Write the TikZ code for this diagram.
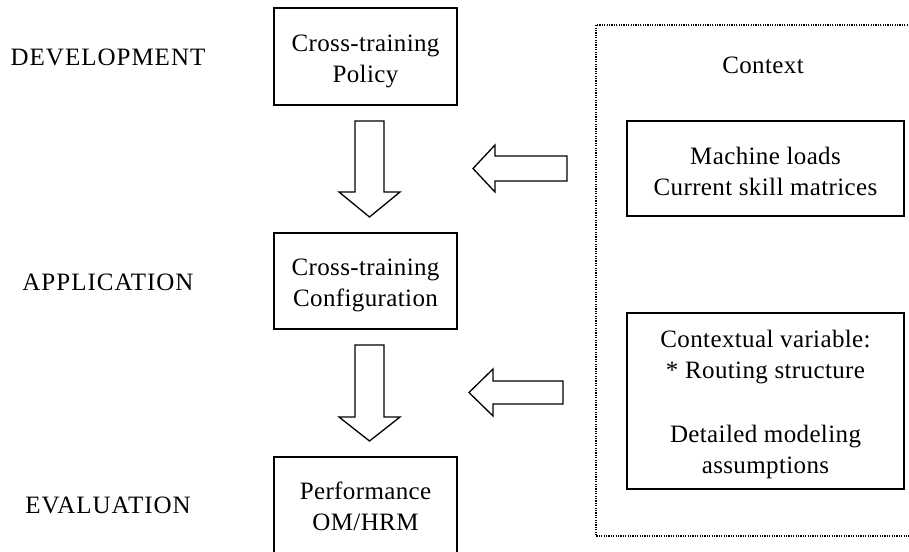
\documentclass[tikz,border=0pt]{standalone}
\usepackage{fontspec}
\setmainfont{Liberation Serif}[LetterSpace=1.5]
\newfontfamily\lblfont{Liberation Serif}[LetterSpace=4]
\begin{document}
\begin{tikzpicture}[x=1pt,y=-1pt,
  txt/.style={font=\fontsize{25}{31}\selectfont, align=center, inner sep=0pt},
  lbl/.style={font=\fontsize{25}{31}\selectfont\lblfont, inner sep=0pt},
  box/.style={draw, line width=1.6pt, minimum width=183pt, inner sep=0pt},
  cbox/.style={draw, line width=1.6pt, minimum width=277pt, inner sep=0pt},
  blockarrow/.style={draw, line width=1.3pt, line join=miter}]
\useasboundingbox (0,0) rectangle (909,551);
% left labels
\node[lbl] (ldev) at (108,57) {DEVELOPMENT};
\node[lbl] (lapp) at (108,282) {APPLICATION};
\node[lbl] (leva) at (108,505) {EVALUATION};
% main boxes
\node[box, minimum height=97pt] (b1) at (365.5,56.5) {};
\node[txt] (t1) at (365.5,61) {Cross-training\\Policy};
\node[box, minimum height=96pt] (b2) at (365.5,281) {};
\node[txt] (t2) at (365.5,285) {Cross-training\\Configuration};
\draw[line width=1.6pt] (274,560) -- (274,457) -- (457,457) -- (457,560);
\node[txt] (b3) at (365.5,506) {Performance\\OM/HRM};
% down arrows
\draw[blockarrow] (355,121) -- (384,121) -- (384,192) -- (400,192) -- (369.5,217)
  -- (339,192) -- (355,192) -- cycle;
\draw[blockarrow] (355,345) -- (384,345) -- (384,417) -- (400,417) -- (369.5,441)
  -- (339,417) -- (355,417) -- cycle;
% left arrows
\draw[blockarrow] (567,156) -- (495,156) -- (495,145) -- (473,168.5) -- (495,192)
  -- (495,181) -- (567,181) -- cycle;
\draw[blockarrow] (563,381) -- (493,381) -- (493,369) -- (469,392.5) -- (493,416)
  -- (493,404) -- (563,404) -- cycle;
% context
\draw[line width=1.3pt, dash pattern=on 1.2pt off 1.2pt] (915,25) -- (596,25) -- (596,536) -- (915,536);
\node[txt] (ctx) at (763,65) {Context};
\node[cbox, minimum height=95pt] (c1) at (765.5,168.5) {};
\node[txt] (t4) at (765.5,171) {Machine loads\\Current skill matrices};
\node[cbox, minimum height=176pt] (c2) at (765.5,401) {};
\node[txt] (t5) at (765.5,404) {Contextual variable:\\* Routing structure\\[33pt]Detailed modeling\\assumptions};
\end{tikzpicture}
\end{document}
